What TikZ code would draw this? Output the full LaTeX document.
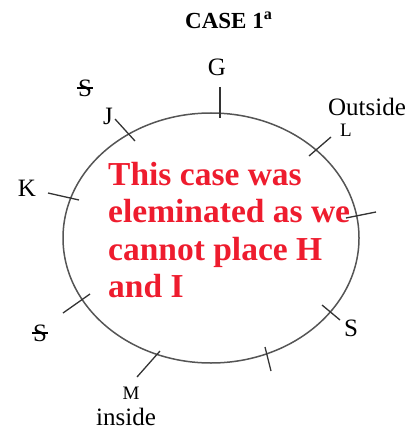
\documentclass[tikz,border=0pt]{standalone}
\usepackage{fontspec}
\setmainfont{Liberation Serif}
\definecolor{redtxt}{RGB}{238,28,46}
\definecolor{ringgray}{RGB}{85,85,85}
\begin{document}
\begin{tikzpicture}[x=1pt,y=-1pt,
  lbl/.style={inner sep=0pt,font=\fontsize{25}{28}\selectfont},
  smalllbl/.style={inner sep=0pt,font=\fontsize{19}{22}\selectfont},
  tick/.style={draw=black!80,line width=1.3pt},
  ring/.style={draw=ringgray,line width=1.5pt}]
\useasboundingbox (0,0) rectangle (409,430);
% title
\node[anchor=base west,inner sep=0pt,font=\fontsize{23}{26}\selectfont\bfseries] (title) at (185,29) {CASE 1\textsuperscript{a}};
% ring
\draw[ring] (211,238) ellipse [x radius=148, y radius=125];
% ticks
\draw[tick] (220,87) -- (220,118);
\draw[tick] (115,119) -- (135,141);
\draw[tick] (331,137) -- (309,156);
\draw[tick] (346,218) -- (376,212);
\draw[tick] (48,193) -- (79,200);
\draw[tick] (63,313) -- (90,294);
\draw[tick] (137,377) -- (160,351);
\draw[tick] (265,347) -- (271,371);
\draw[tick] (322,305) -- (340,320);
% labels
\node[lbl] (g) at (217,67.5) {G};
\node[lbl] (s1) at (85,88) {S};
\draw[line width=1.1pt] ([xshift=-1pt]s1.west) -- ([xshift=1pt]s1.east);
\node[lbl] (j) at (108,116) {J};
\node[lbl,anchor=base] (outside) at (367,116) {Outside};
\node[smalllbl] (l) at (346,130) {L};
\node[lbl] (k) at (27,188) {K};
\node[lbl] (s2) at (40,333) {S};
\draw[line width=1.1pt] ([xshift=-1pt]s2.west) -- ([xshift=1pt]s2.east);
\node[smalllbl] (m) at (131,393) {M};
\node[lbl,anchor=base] (inside) at (126,425.5) {inside};
\node[lbl] (s3) at (351,328) {S};
% red text
\node[anchor=north west,inner sep=0pt,align=left,text=redtxt,
  font=\fontsize{33.5}{37.5}\selectfont\bfseries] (note) at (108,162)
  {This case was\\eleminated as we\\cannot place H\\and I};
\end{tikzpicture}
\end{document}
